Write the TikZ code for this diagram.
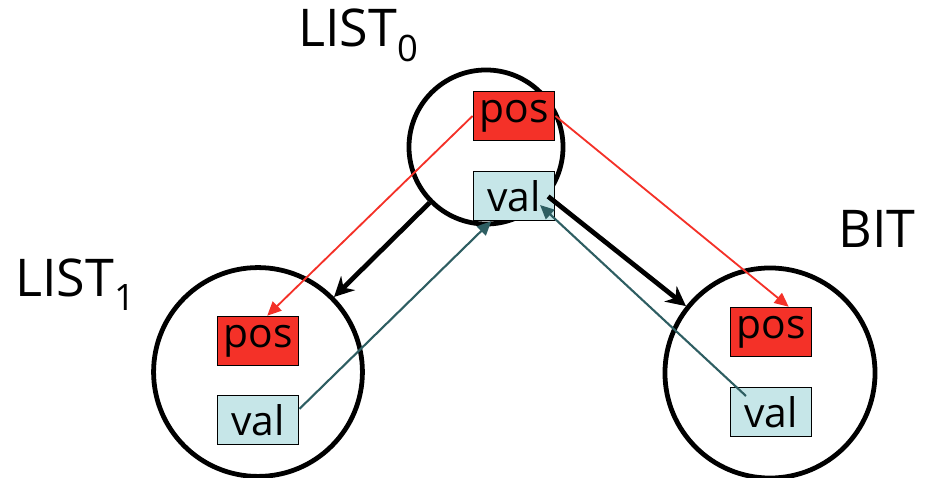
\documentclass[tikz,border=0pt]{standalone}
\usepackage{fontspec}
\setmainfont{Open Sans}
\usetikzlibrary{arrows.meta, positioning, calc}
\definecolor{posred}{HTML}{F43128}
\definecolor{valblue}{HTML}{C6E6E8}
\definecolor{linkteal}{HTML}{2E5E62}

\begin{document}
\begin{tikzpicture}[x=0.025cm, y=-0.025cm,
    ring/.style={draw, line width=3.4pt, circle, inner sep=0pt},
    field/.style={draw, line width=1.2pt, minimum width=2.03cm,
                  minimum height=1.22cm, inner sep=0pt,
                  font=\fontsize{29}{32}\selectfont},
    tag/.style={anchor=base west, inner sep=0pt,
                font=\fontsize{37}{42}\selectfont},
    bold/.style={-{Stealth[length=14pt, width=14pt]}, line width=3.4pt},
    posarr/.style={-{Triangle[length=10pt, width=9pt]}, line width=1.3pt, posred},
    valarr/.style={-{Triangle[length=10pt, width=9pt]}, line width=1.5pt, linkteal},
  ]
    \useasboundingbox (0,0) rectangle (935,478);

    \node[ring, minimum size=3.85cm] (top) at (486,147) {};
    \node[ring, minimum size=5.22cm] (lft) at (258,372) {};
    \node[ring, minimum size=5.25cm] (rgt) at (770,373) {};

    \node[tag] (ltop) at (298,47)  {LIST\textsubscript{0}};
    \node[tag] (llft) at (15,297)  {LIST\textsubscript{1}};
    \node[tag] (lrgt) at (838,248) {BIT};

    \node[field, fill=posred]  (tpos) at (514,116) {pos};
    \node[field, fill=valblue] (tval) at (514,196) {val};
    \node[field, fill=posred]  (lpos) at (258,341) {pos};
    \node[field, fill=valblue] (lval) at (258,420) {val};
    \node[field, fill=posred]  (rpos) at (771,332) {pos};
    \node[field, fill=valblue] (rval) at (771,412) {val};

    \draw[bold] (top) -- (lft);
    \draw[bold] (top) -- (rgt);

    \draw[posarr] (tpos.west) -- (lpos.70);
    \draw[posarr] (tpos.east) -- (rpos.55);

    \draw[valarr] (lval.15) -- (tval.228);
    \draw[valarr] ($(rval.center)+(-25,-16)$) -- ($(tval.center)+(26,9)$);
\end{tikzpicture}
\end{document}
